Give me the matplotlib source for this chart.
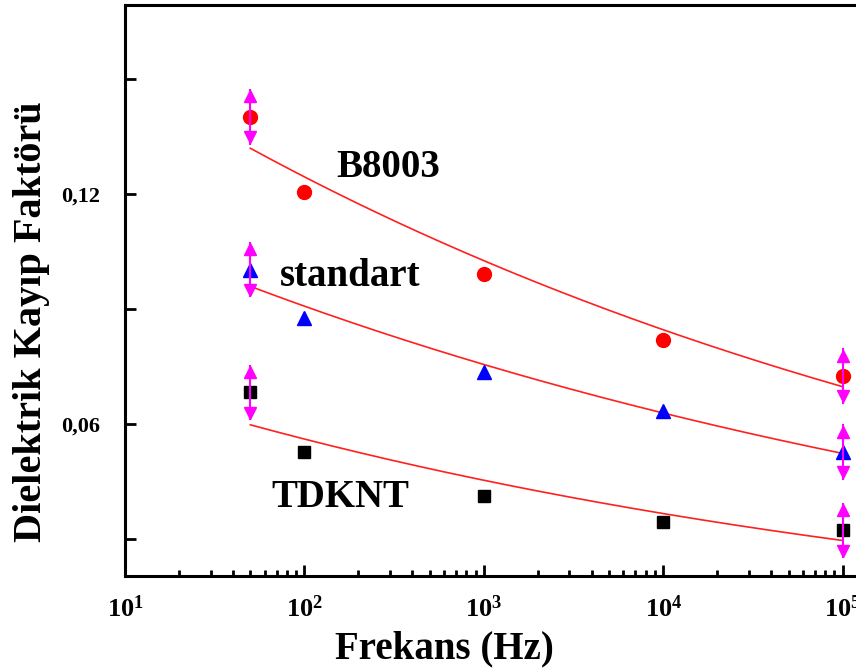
import numpy as np
import matplotlib
matplotlib.use("Agg")
import matplotlib.pyplot as plt
from matplotlib.ticker import FixedLocator, MultipleLocator, NullFormatter

plt.rcParams['font.family'] = ['Liberation Serif', 'DejaVu Serif']
plt.rcParams['font.weight'] = 'bold'
plt.rcParams['mathtext.fontset'] = 'custom'
plt.rcParams['mathtext.rm'] = 'Liberation Serif:bold'
plt.rcParams['mathtext.it'] = 'Liberation Serif:bold'
plt.rcParams['mathtext.bf'] = 'Liberation Serif:bold'

# frequency (Hz)
freq = [50, 100, 1000, 10000, 100000]

# dielectric loss factor
b8003 = [0.1401, 0.1205, 0.0991, 0.0819, 0.0725]
standart = [0.1002, 0.0877, 0.0736, 0.0634, 0.0527]
tdknt = [0.0683, 0.0527, 0.0412, 0.0344, 0.0323]

# error bars only at the first and last frequency
err = [0.0072, 0, 0, 0, 0.0072]

x_ticks = [10, 100, 1000, 10000, 100000]
x_tick_labels = ['$10^{1}$', '$10^{2}$', '$10^{3}$', '$10^{4}$', '$10^{5}$']
y_ticks = [0.06, 0.12]
y_tick_labels = ['0,06', '0,12']


def power_fit(f, v):
    # y = a * f**b, straight line in log-log
    p = np.polyfit(np.log10(f), np.log10(v), 1)
    return lambda x: 10 ** np.polyval(p, np.log10(x))


fig = plt.figure(figsize=(8.56, 6.71), dpi=100)
ax = fig.add_axes([0.146, 0.1416, 0.863, 0.851])

series = [
    (b8003, 'o', 'red', 10),
    (standart, '^', 'blue', 10),
    (tdknt, 's', 'black', 9),
]

f = np.array(freq, dtype=float)
e = np.array(err)
has_err = e > 0
fx = np.logspace(np.log10(freq[0]), np.log10(freq[-1]), 200)

for vals, mk, col, ms in series:
    v = np.array(vals)
    fit = power_fit(f, v)
    ax.plot(fx, fit(fx), color='#ff2020', lw=1.2, zorder=2)
    ax.plot(f, v, linestyle='none', marker=mk, color=col, markersize=ms, zorder=3)
    fe, ve, ee = f[has_err], v[has_err], e[has_err]
    ax.errorbar(fe, ve, yerr=ee, fmt='none', ecolor='#ff00ff', elinewidth=1.5, capsize=0, zorder=4)
    ax.plot(fe, ve + 0.74 * ee, linestyle='none', marker='^', color='#ff00ff', markersize=8, zorder=4)
    ax.plot(fe, ve - 0.74 * ee, linestyle='none', marker='v', color='#ff00ff', markersize=8, zorder=4)

ax.set_xscale('log')
ax.set_xlim(10, 1.31e5)
ax.set_ylim(0.02035, 0.1693)

ax.xaxis.set_major_locator(FixedLocator(x_ticks))
ax.set_xticklabels(x_tick_labels)
ax.xaxis.set_minor_formatter(NullFormatter())
ax.set_yticks(y_ticks)
ax.set_yticklabels(y_tick_labels)
ax.yaxis.set_minor_locator(MultipleLocator(0.03))

ax.tick_params(which='both', direction='in', top=False, right=False, width=2)
ax.tick_params(axis='x', which='major', length=8, labelsize=19, pad=14)
ax.tick_params(axis='x', which='minor', length=4)
ax.tick_params(axis='y', which='both', length=8, labelsize=16, pad=18)

for s in ax.spines.values():
    s.set_linewidth(2.2)

ax.set_xlabel('Frekans (Hz)', fontsize=28, fontweight='bold')
ax.set_ylabel('Dielektrik Kayıp Faktörü', fontsize=29, fontweight='bold')
ax.xaxis.set_label_coords(0.433, -0.0946)
ax.yaxis.set_label_coords(-0.101, 0.445)

ax.text(292, 0.1268, 'B8003', fontsize=28, fontweight='bold', ha='center', va='center')
ax.text(179, 0.0986, 'standart', fontsize=28, fontweight='bold', ha='center', va='center')
ax.text(158, 0.0407, 'TDKNT', fontsize=28, fontweight='bold', ha='center', va='center')

fig.savefig('out.png', dpi=100)
